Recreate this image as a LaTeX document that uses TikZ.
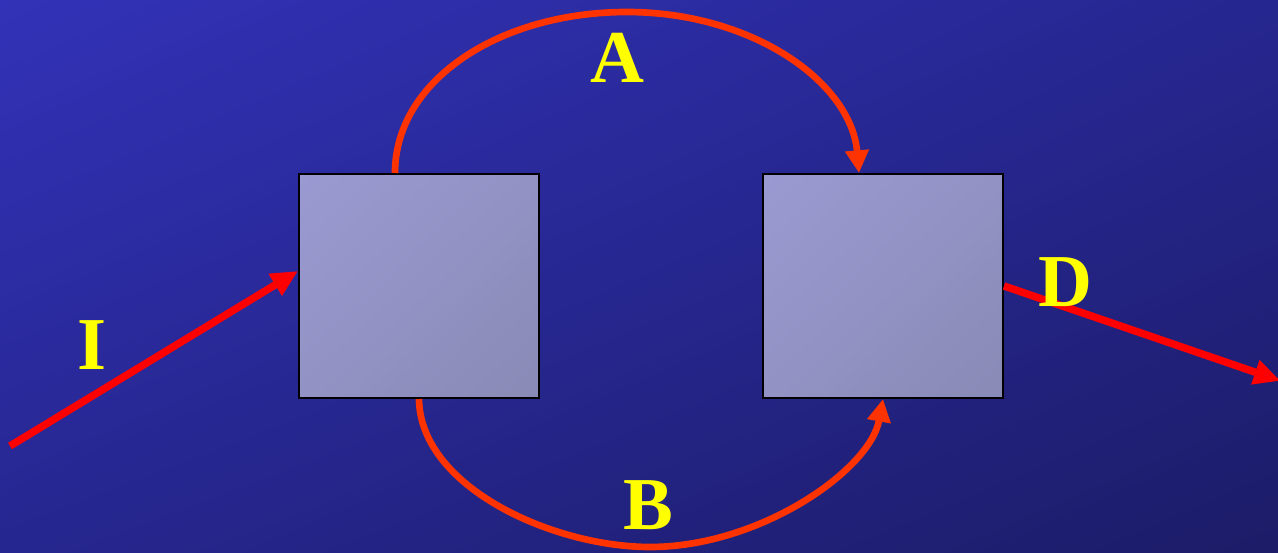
\documentclass[tikz,border=0pt]{standalone}
\usepackage{fontspec}
\setmainfont{Liberation Serif}
\usetikzlibrary{arrows.meta,shadings}
\definecolor{bgA}{HTML}{3232B8}
\definecolor{bgM}{HTML}{262690}
\definecolor{bgB}{HTML}{1C1C68}
\definecolor{bxA}{HTML}{9A9AD2}
\definecolor{bxM}{HTML}{9292C4}
\definecolor{bxB}{HTML}{8A8AB6}
\definecolor{arcred}{HTML}{FF3300}
\definecolor{lab}{HTML}{FFFF00}
\begin{document}
\begin{tikzpicture}[x=0.75pt,y=-0.75pt,
  blockbox/.style={draw=black,line width=1.5pt,minimum width=180pt,minimum height=168pt,inner sep=0pt,
    upper left=bxA,lower right=bxB,upper right=bxM,lower left=bxM},
  straightarrow/.style={draw=red,line width=5.6pt,-{Triangle[length=20pt,width=18pt]}},
  curvearrow/.style={draw=arcred,line width=5pt,-{Triangle[length=17pt,width=17pt]}},
  letter/.style={text=lab,font=\bfseries\fontsize{56}{60}\selectfont,inner sep=0pt}]
\useasboundingbox (0,0) rectangle (1278,553);
\shade[upper left=bgA,lower right=bgB,upper right=bgM,lower left=bgM] (0,0) rectangle (1278,553);
\node[blockbox,shade] (b1) at (419,286) {};
\node[blockbox,shade] (b2) at (883,286) {};
\coordinate (iS) at (10,446);
\coordinate (dE) at (1278,380);
\coordinate (aS) at ([xshift=-24*0.75pt]b1.north);
\coordinate (aE) at ([xshift=-24*0.75pt]b2.north);
\coordinate (aT) at (627,12);
\coordinate (bS) at (b1.south);
\coordinate (bE) at (b2.south);
\coordinate (bT) at (650,547);
\draw[straightarrow] (iS) -- (b1.west |- 0,271);
\draw[straightarrow,shorten >=-2pt] (b2.east |- 0,286) -- (dE);
\draw[curvearrow] (aS) .. controls (395,80) and (500,12) .. (aT)
  .. controls (752,12) and (851,82) .. (aE);
\draw[curvearrow] (bS) .. controls (420,487) and (553,547) .. (bT)
  .. controls (760,547) and (870,470) .. (bE);
\node[letter] (lA) at (617,58) {A};
\node[letter] (lB) at (648,505) {B};
\node[letter] (lI) at (92,345) {I};
\node[letter] (lD) at (1065,282) {D};
\end{tikzpicture}
\end{document}
